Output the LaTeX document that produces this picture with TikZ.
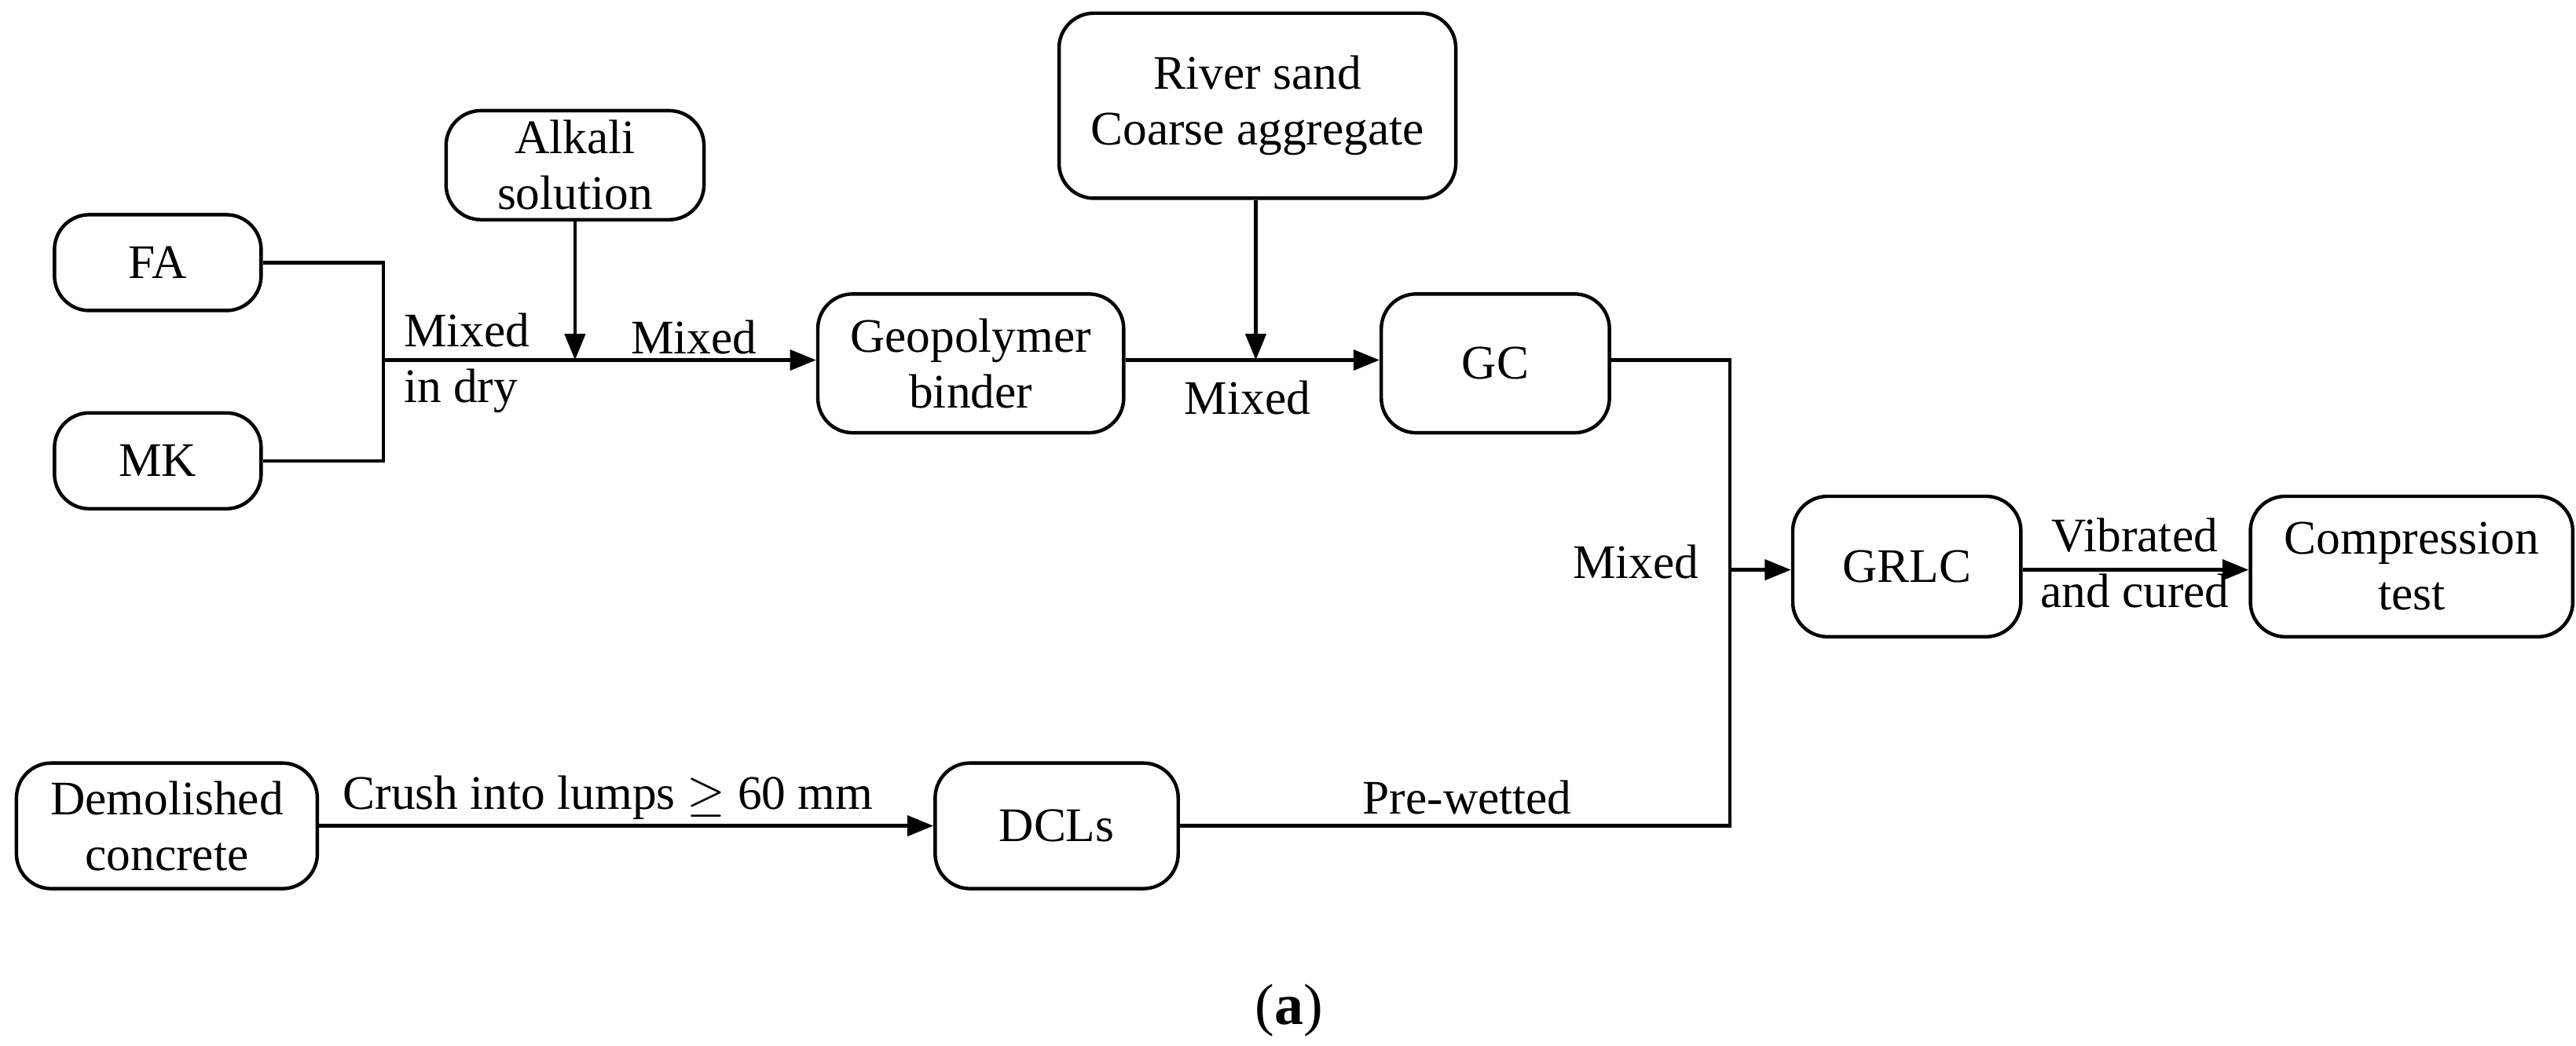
\documentclass[tikz,border=0pt]{standalone}
\usepackage{fontspec}
\setmainfont{Liberation Serif}
\usetikzlibrary{arrows.meta,positioning}
\tikzset{
  box/.style={draw,rounded corners=6pt,line width=0.6pt,align=center,inner sep=0pt},
  line/.style={line width=0.6pt},
  arr/.style={line width=0.6pt,-{Triangle[length=4.5pt,width=3.5pt]}},
  lbl/.style={font=\fontsize{8.3}{9.6}\selectfont,align=center},
  every node/.style={font=\fontsize{8.3}{9.6}\selectfont}
}
\begin{document}
\begin{tikzpicture}[x=0.01cm,y=-0.01cm]
  \useasboundingbox (0,0) rectangle (1559,633);
  % boxes (x from left, y from top)
  \node[box,minimum width=1.25cm,minimum height=0.58cm] (fa) at (95.5,159) {FA};
  \node[box,minimum width=1.25cm,minimum height=0.58cm] (mk) at (95.5,279) {MK};
  \node[box,minimum width=1.56cm,minimum height=0.66cm] (alk) at (348,100) {Alkali\\solution};
  \node[box,minimum width=1.85cm,minimum height=0.84cm] (geo) at (587.5,220) {Geopolymer\\binder};
  \node[box,minimum width=2.40cm,minimum height=1.12cm] (rs) at (761,64) {River sand\\Coarse aggregate};
  \node[box,minimum width=1.38cm,minimum height=0.84cm] (gc) at (905,220) {GC};
  \node[box,minimum width=1.38cm,minimum height=0.85cm] (grlc) at (1154,343) {GRLC};
  \node[box,minimum width=1.95cm,minimum height=0.85cm] (ct) at (1459.5,343) {Compression\\test};
  \node[box,minimum width=1.82cm,minimum height=0.76cm] (dc) at (101,500) {Demolished\\concrete};
  \node[box,minimum width=1.47cm,minimum height=0.76cm] (dcl) at (639.5,500) {DCLs};
  % junctions
  \coordinate (j1) at (232,218);
  \coordinate (j2) at (348,218);
  \coordinate (j3) at (760,218);
  \coordinate (j4) at (1047,345);
  \coordinate (jt) at (1047,218);
  \coordinate (jb) at (1047,500);
  % connectors
  \draw[line] (fa.east) -| (j1) |- (mk.east);
  \draw[arr] (j1) -- (geo.west |- j1);
  \draw[arr] (alk.south) -- (j2);
  \draw[arr] (geo.east |- j3) -- (gc.west |- j3);
  \draw[arr] (rs.south -| j3) -- (j3);
  \draw[line] (gc.east |- jt) -- (jt) -- (jb) -- (dcl.east);
  \draw[arr] (j4) -- (grlc.west |- j4);
  \draw[arr] (grlc.east |- j4) -- (ct.west |- j4);
  \draw[arr] (dc.east) -- (dcl.west);
  % labels
  \node[lbl,align=left,anchor=west] (l1) at (232,220) {Mixed\\in dry};
  \node[lbl] (l2) at (420,204) {Mixed};
  \node[lbl] (l3) at (755,241) {Mixed};
  \node[lbl] (l4) at (990,340) {Mixed};
  \node[lbl] (l5) at (1292,341) {Vibrated\\and cured};
  \node[lbl] (l6) at (368,483) {Crush into lumps $\geq$ 60 mm};
  \node[lbl] (l7) at (888,483) {Pre-wetted};
  \node[font=\fontsize{10}{12}\selectfont] (cap) at (780,612) {(\textbf{a})};
\end{tikzpicture}
\end{document}
